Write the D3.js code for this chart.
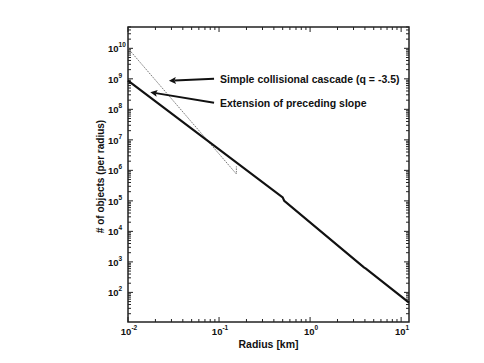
<!DOCTYPE html>
<html>
<head>
<meta charset="utf-8">
<script src="https://cdn.jsdelivr.net/npm/d3@7"></script>
<style>
  body { margin: 0; background: #fff; }
  svg text { font-family: "Liberation Sans", Arial, sans-serif; font-weight: bold; fill: #111; }
</style>
</head>
<body>
<svg id="chart" width="484" height="363"></svg>
<script>
// size distribution, radius in km
var mainRadius = [0.01, 0.5, 0.52, 3.9, 4.1, 12.2]
var mainCount = [8.7e8, 1.3e5, 1.0e5, 660, 600, 46]

// simple collisional cascade q = -3.5
var cascadeRadius = [0.01, 0.155, 0.155]
var cascadeCount = [1e10, 7.6e5, 1.35e6]

var xDomain = [0.01, 12.2]
var yDomain = [10.7, 5e10]
var xTickValues = [0.01, 0.1, 1, 10]
var yTickValues = [1e2, 1e3, 1e4, 1e5, 1e6, 1e7, 1e8, 1e9, 1e10]

var notes = [
  { text: 'Simple collisional cascade (q = -3.5)', r: 0.0265, n: 8.8e8 },
  { text: 'Extension of preceding slope', r: 0.0165, n: 3.4e8 }
]

var margin = { top: 27, right: 75, bottom: 41, left: 128 }
var width = 484 - margin.left - margin.right
var height = 363 - margin.top - margin.bottom

var x = d3.scaleLog().domain(xDomain).range([0, width])
var y = d3.scaleLog().domain(yDomain).range([height, 0])

var svg = d3.select('#chart')
var g = svg.append('g')
  .attr('transform', 'translate(' + margin.left + ',' + margin.top + ')')

svg.append('defs').append('marker')
  .attr('id', 'head')
  .attr('viewBox', '0 0 10 10')
  .attr('refX', 2).attr('refY', 5)
  .attr('markerUnits', 'userSpaceOnUse')
  .attr('markerWidth', 9).attr('markerHeight', 7)
  .attr('orient', 'auto')
  .append('path').attr('d', 'M10,5 L0,0 L2,5 L0,10 Z').attr('fill', '#111')

// minor + major ticks, pointing inward on every side
function allTicks(scale) {
  var d = scale.domain(), out = []
  var lo = Math.floor(Math.log10(d[0])), hi = Math.ceil(Math.log10(d[1]))
  for (var e = lo; e <= hi; e++) {
    for (var m = 1; m < 10; m++) {
      var v = m * Math.pow(10, e)
      if (v >= d[0] && v <= d[1]) out.push({ v: v, major: m === 1 })
    }
  }
  return out
}

var xt = allTicks(x), yt = allTicks(y)
var tickG = g.append('g').attr('stroke', '#222').attr('stroke-width', 1)
xt.forEach(function(t) {
  var len = t.major ? 5 : 3
  tickG.append('line').attr('x1', x(t.v)).attr('x2', x(t.v)).attr('y1', height).attr('y2', height - len)
  tickG.append('line').attr('x1', x(t.v)).attr('x2', x(t.v)).attr('y1', 0).attr('y2', len)
})
yt.forEach(function(t) {
  var len = t.major ? 5 : 3
  tickG.append('line').attr('y1', y(t.v)).attr('y2', y(t.v)).attr('x1', 0).attr('x2', len)
  tickG.append('line').attr('y1', y(t.v)).attr('y2', y(t.v)).attr('x1', width).attr('x2', width - len)
})

g.append('rect')
  .attr('width', width).attr('height', height)
  .attr('fill', 'none').attr('stroke', '#222').attr('stroke-width', 1.5)

// tick labels as 10^n
function powLabel(sel, v) {
  var e = Math.round(Math.log10(v))
  sel.append('tspan').text('10').attr('font-size', 9.5)
  sel.append('tspan').text(e).attr('font-size', 6.5).attr('dy', -5)
}
xTickValues.forEach(function(v) {
  var t = g.append('text').attr('x', x(v) + 1).attr('y', height + 13).attr('text-anchor', 'middle')
  powLabel(t, v)
})
yTickValues.forEach(function(v) {
  var t = g.append('text').attr('x', -20).attr('y', y(v) + 4).attr('text-anchor', 'start')
  powLabel(t, v)
})

g.append('text')
  .attr('x', width / 2).attr('y', height + 26)
  .attr('text-anchor', 'middle').attr('font-size', 10.5)
  .text('Radius [km]')

g.append('text')
  .attr('transform', 'translate(-24,' + (height / 2 + 2) + ') rotate(-90)')
  .attr('text-anchor', 'middle').attr('font-size', 10)
  .text('# of objects (per radius)')

var line = d3.line()
  .x(function(d) { return x(d[0]) })
  .y(function(d) { return y(d[1]) })

g.append('path')
  .datum(cascadeRadius.map(function(r, i) { return [r, cascadeCount[i]] }))
  .attr('d', line)
  .attr('fill', 'none').attr('stroke', '#777').attr('stroke-width', 1)
  .attr('stroke-dasharray', '1.5,1')

g.append('path')
  .datum(mainRadius.map(function(r, i) { return [r, mainCount[i]] }))
  .attr('d', line)
  .attr('fill', 'none').attr('stroke', '#111').attr('stroke-width', 2.2)

// annotations with arrows
var textX = x(0.1) + 1
notes.forEach(function(n, i) {
  var ty = i === 0 ? y(1e9) + 1 : y(1e9) + 25
  g.append('line')
    .attr('x1', textX - 6).attr('y1', ty - 1)
    .attr('x2', x(n.r) + 8).attr('y2', y(n.n))
    .attr('stroke', '#111').attr('stroke-width', 2)
    .attr('marker-end', 'url(#head)')
  g.append('text')
    .attr('x', textX).attr('y', ty + 3)
    .attr('font-size', 10.5)
    .text(n.text)
})
</script>
</body>
</html>
